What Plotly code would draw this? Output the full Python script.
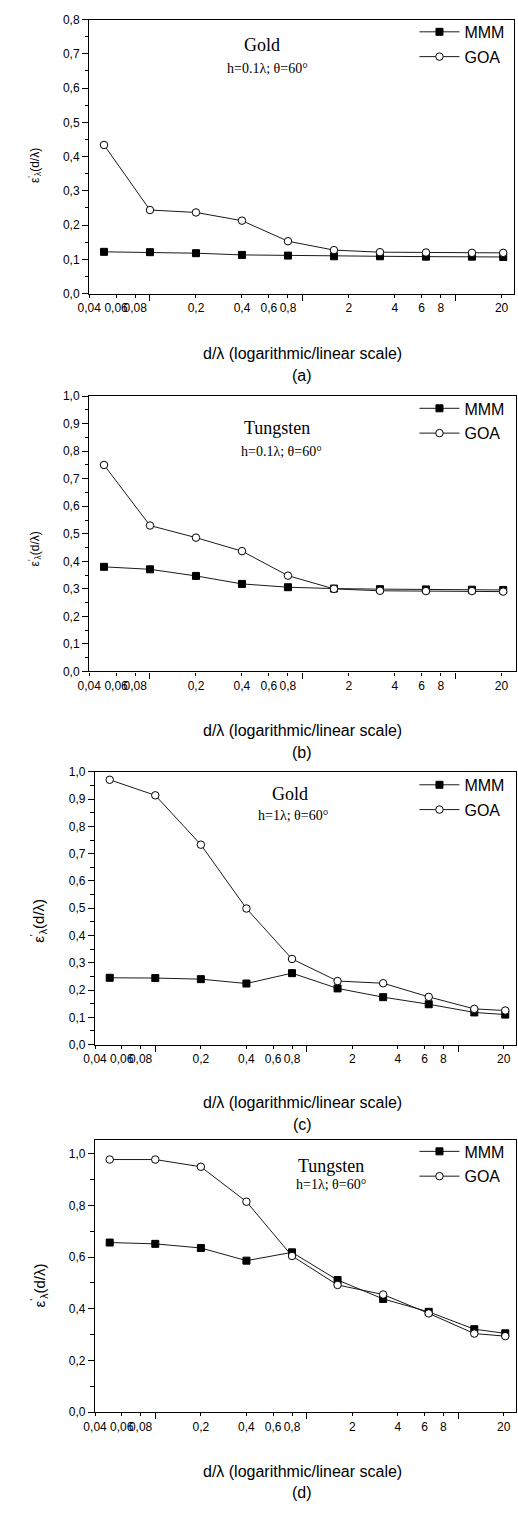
import plotly.graph_objects as go

# Relative distance d/lambda (log axis)
d_lambda = [0.05, 0.1, 0.2, 0.4, 0.8, 1.6, 3.2, 6.4, 12.8, 20.5]

# Emissivity, MMM vs GOA, four configurations
mmm_gold_h01 = [0.122, 0.121, 0.118, 0.113, 0.111, 0.109, 0.109, 0.108, 0.108, 0.107]
goa_gold_h01 = [0.434, 0.244, 0.237, 0.213, 0.153, 0.127, 0.121, 0.120, 0.119, 0.119]

mmm_tung_h01 = [0.380, 0.371, 0.347, 0.318, 0.306, 0.301, 0.299, 0.298, 0.297, 0.296]
goa_tung_h01 = [0.750, 0.530, 0.486, 0.437, 0.348, 0.300, 0.293, 0.292, 0.292, 0.290]

mmm_gold_h1 = [0.245, 0.244, 0.240, 0.224, 0.262, 0.206, 0.174, 0.148, 0.118, 0.110]
goa_gold_h1 = [0.971, 0.914, 0.733, 0.499, 0.314, 0.233, 0.225, 0.175, 0.131, 0.125]

mmm_tung_h1 = [0.656, 0.651, 0.635, 0.586, 0.618, 0.511, 0.438, 0.388, 0.321, 0.305]
goa_tung_h1 = [0.977, 0.977, 0.949, 0.814, 0.604, 0.492, 0.455, 0.382, 0.304, 0.294]

x_tick_vals = [0.04, 0.06, 0.08, 0.2, 0.4, 0.6, 0.8, 2, 4, 6, 8, 20]
x_tick_text = ["0,04", "0,06", "0,08", "0,2", "0,4", "0,6", "0,8", "2", "4", "6", "8", "20"]
x_decades = [0.1, 1, 10]

materials = ["Gold", "Tungsten", "Gold", "Tungsten"]
conditions = ["h=0.1λ; θ=60°", "h=0.1λ; θ=60°", "h=1λ; θ=60°", "h=1λ; θ=60°"]
panel_tags = ["(a)", "(b)", "(c)", "(d)"]
series_names = ["MMM", "GOA"]

W, H = 518, 1513

# panel layout in pixels: left, right, top, bottom, y max, y major step, x log-range end
panels = [
    dict(l=79, r=514, t=12.7, b=289.3, ymax=0.8, dy=0.1, xend=1.383,
         mmm=mmm_gold_h01, goa=goa_gold_h01,
         title=(256, 38), cond=(262, 62), leg=30, ytitle=(23, 160, 12),
         xt=350, tag=372),
    dict(l=79, r=516, t=392.7, b=670.7, ymax=1.0, dy=0.1, xend=1.396,
         mmm=mmm_tung_h01, goa=goa_tung_h01,
         title=(271, 425), cond=(276, 449), leg=410, ytitle=(23, 547, 12),
         xt=730, tag=752),
    dict(l=85, r=516, t=772, b=1047.3, ymax=1.0, dy=0.1, xend=1.383,
         mmm=mmm_gold_h1, goa=goa_gold_h1,
         title=(285, 794), cond=(288, 816), leg=790, ytitle=(27, 922, 15),
         xt=1106, tag=1128),
    dict(l=85, r=516, t=1144, b=1418.3, ymax=1.051, dy=0.2, xend=1.383,
         mmm=mmm_tung_h1, goa=goa_tung_h1,
         title=(327, 1170), cond=(327, 1188), leg=1160, ytitle=(27, 1290, 15),
         xt=1478, tag=1499),
]

fig = go.Figure()
layout = dict(
    width=W, height=H, autosize=False,
    margin=dict(l=0, r=0, t=0, b=0),
    paper_bgcolor="white", plot_bgcolor="white",
    separators=",.",
    font=dict(family="Arial, Liberation Sans, sans-serif", color="black"),
    showlegend=True,
)
annotations = []
sans = "Arial, Liberation Sans, sans-serif"
serif = "Times New Roman, Liberation Serif, serif"

for i, p in enumerate(panels):
    n = "" if i == 0 else str(i + 1)
    xa, ya = "x" + n, "y" + n
    leg = "legend" + n
    for k, (name, vals) in enumerate(zip(series_names, [p["mmm"], p["goa"]])):
        marker = (dict(symbol="square", size=7, color="black", line=dict(color="black", width=1))
                  if k == 0 else
                  dict(symbol="circle", size=7.5, color="white", line=dict(color="black", width=1)))
        fig.add_trace(go.Scatter(
            x=d_lambda, y=vals, name=name, mode="lines+markers",
            line=dict(color="#1a1a1a", width=1), marker=marker,
            xaxis=xa, yaxis=ya, legend=leg, legendgroup=f"{i}-{k}",
        ))

    layout["xaxis" + n] = dict(
        type="log", domain=[p["l"] / W, p["r"] / W], anchor=ya,
        range=[-1.398, p["xend"]],
        tickmode="array", tickvals=x_tick_vals, ticktext=x_tick_text,
        ticks="outside", ticklen=3, tickwidth=1, tickcolor="black", tickangle=0,
        minor=dict(tickmode="array", tickvals=x_decades, ticks="outside",
                   ticklen=6, tickwidth=1, tickcolor="black"),
        showline=True, linecolor="black", linewidth=1.3, mirror=True,
        showgrid=False, zeroline=False,
        tickfont=dict(size=12, family=sans, color="black"),
    )
    layout["yaxis" + n] = dict(
        domain=[1 - p["b"] / H, 1 - p["t"] / H], anchor=xa,
        range=[0, p["ymax"]], tickmode="linear", tick0=0, dtick=p["dy"],
        tickformat=".1f",
        ticks="outside", ticklen=6, tickwidth=1, tickcolor="black",
        minor=dict(dtick=p["dy"] / 2, ticks="outside", ticklen=3.5,
                   tickwidth=1, tickcolor="black"),
        showline=True, linecolor="black", linewidth=1.3, mirror=True,
        showgrid=False, zeroline=False,
        tickfont=dict(size=12, family=sans, color="black"),
    )
    layout[leg] = dict(
        x=412 / W, y=1 - (p["leg"] - 22) / H, xanchor="left", yanchor="top",
        bgcolor="rgba(0,0,0,0)", borderwidth=0,
        font=dict(size=16, family=sans, color="black"),
        traceorder="grouped", tracegroupgap=1, itemwidth=40,
    )

    annotations += [
        dict(text=materials[i], x=p["title"][0] / W, y=1 - p["title"][1] / H,
             xref="paper", yref="paper", showarrow=False, xanchor="center", yanchor="middle",
             font=dict(family=serif, size=18, color="black")),
        dict(text=conditions[i], x=p["cond"][0] / W, y=1 - p["cond"][1] / H,
             xref="paper", yref="paper", showarrow=False, xanchor="center", yanchor="middle",
             font=dict(family=serif, size=14, color="black")),
        dict(text="d/λ (logarithmic/linear scale)", x=297 / W, y=1 - p["xt"] / H,
             xref="paper", yref="paper", showarrow=False, xanchor="center", yanchor="middle",
             font=dict(family=sans, size=16, color="black")),
        dict(text=panel_tags[i], x=297 / W, y=1 - p["tag"] / H,
             xref="paper", yref="paper", showarrow=False, xanchor="center", yanchor="middle",
             font=dict(family=sans, size=16, color="black")),
        dict(text="ε<sup>'</sup><sub>λ</sub>(d/λ)", x=p["ytitle"][0] / W, y=1 - p["ytitle"][1] / H,
             xref="paper", yref="paper", showarrow=False, xanchor="center", yanchor="middle",
             textangle=-90, font=dict(family=sans, size=p["ytitle"][2], color="black")),
    ]

layout["annotations"] = annotations
fig.update_layout(**layout)
fig.write_html("out.html")
